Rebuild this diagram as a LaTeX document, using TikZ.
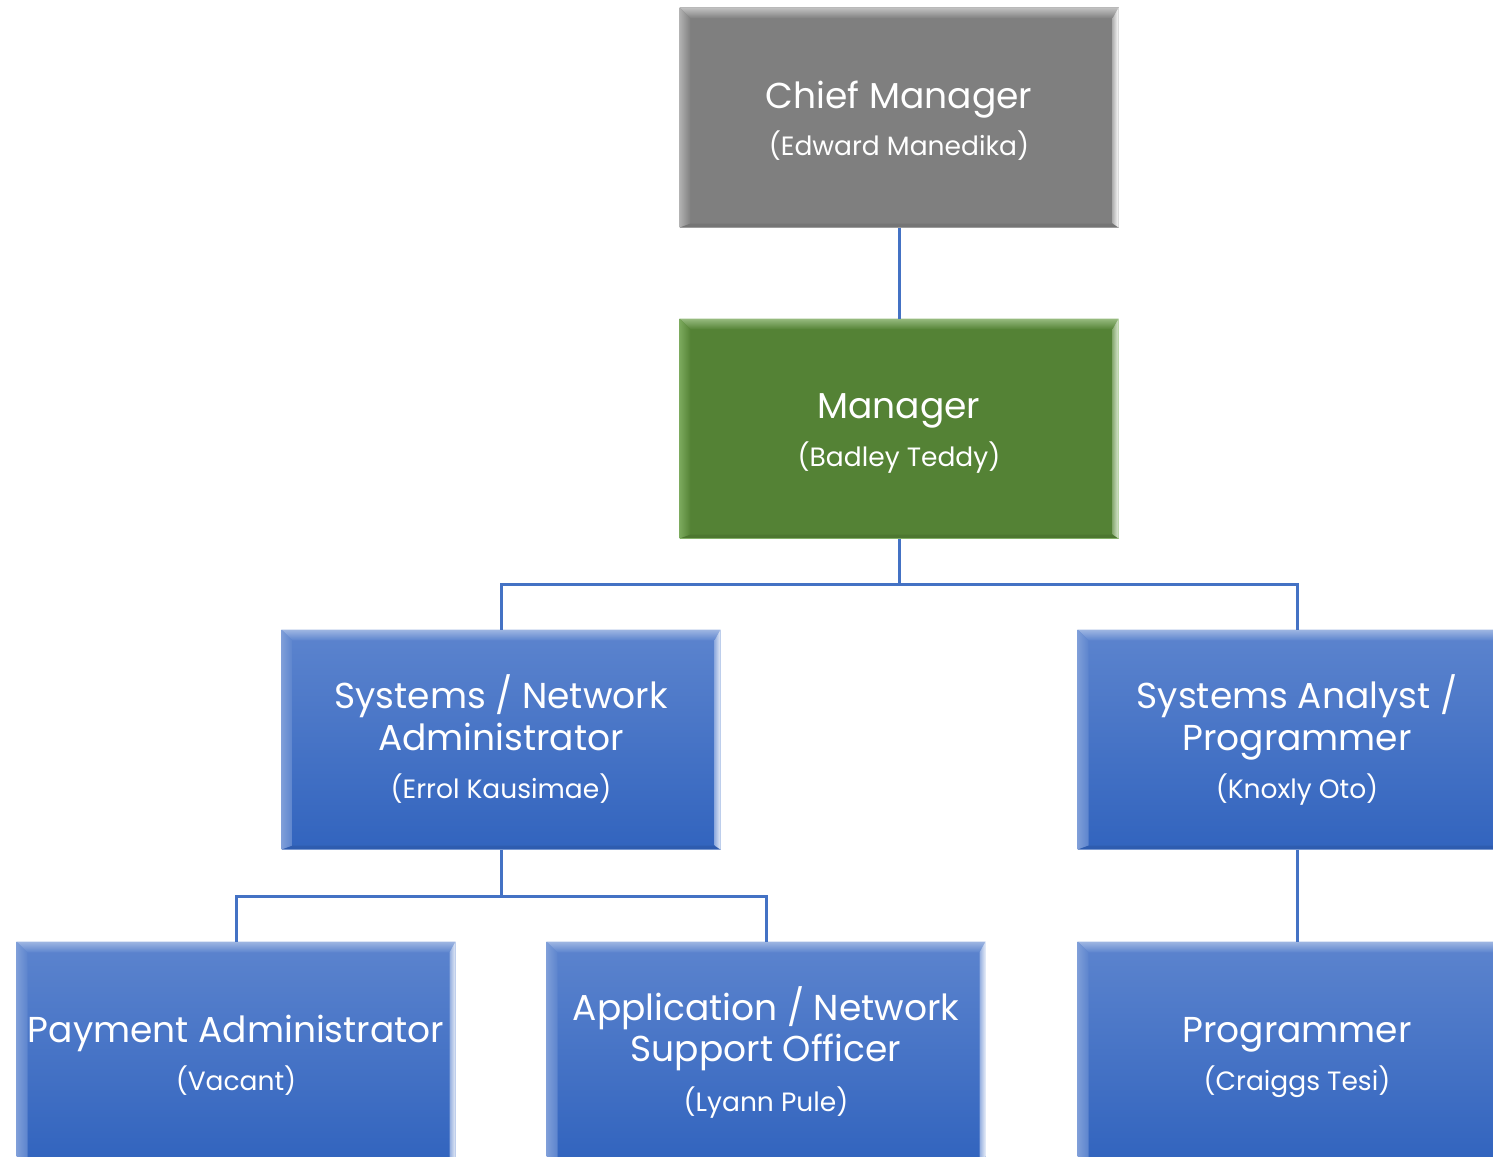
\documentclass[tikz,border=0pt]{standalone}
\usepackage{fontspec}
\setmainfont{Poppins}
\usetikzlibrary{calc}
\definecolor{conn}{RGB}{68,114,196}
\definecolor{bluetop}{RGB}{92,132,206}
\definecolor{bluebot}{RGB}{50,100,190}
\definecolor{blueline}{RGB}{128,160,218}
\definecolor{greyfill}{RGB}{127,127,127}
\definecolor{greyline}{RGB}{165,165,165}
\definecolor{greenfill}{RGB}{84,130,53}
\definecolor{greenline}{RGB}{140,186,110}
\tikzset{
  orgbox/.style={rectangle, minimum width=438pt, minimum height=219pt, inner sep=0pt, line width=1pt},
  bluebox/.style={orgbox, top color=bluetop, bottom color=bluebot, draw=blueline},
  greybox/.style={orgbox, fill=greyfill, draw=greyline},
  greenbox/.style={orgbox, fill=greenfill, draw=greenline},
  conline/.style={draw=conn, line width=3pt},
  ttl/.style={text=white, anchor=base, inner sep=0pt, font=\fontsize{36}{40}\selectfont},
  sub/.style={text=white, anchor=base, inner sep=0pt, font=\fontsize{26.5}{30}\selectfont},
}
% #1 node, #2 top highlight, #3 left highlight, #4 right highlight, #5 fill (top), #6 bottom shade
\newcommand\bevelbox[6]{%
  \shade[top color=#2!75!#5, middle color=#2, bottom color=#5] (#1.north west) -- (#1.north east) -- ($(#1.north east)+(-6,11)$) -- ($(#1.north west)+(11,11)$) -- cycle;
  \shade[left color=#3!70!#5, right color=#5] (#1.north west) -- ($(#1.north west)+(11,11)$) -- ($(#1.south west)+(11,-4)$) -- (#1.south west) -- cycle;
  \shade[right color=#4, left color=#4!40!#5] (#1.north east) -- ($(#1.north east)+(-6,11)$) -- ($(#1.south east)+(-6,-4)$) -- (#1.south east) -- cycle;
  \fill[#6, opacity=0.08] (#1.south west) -- ($(#1.south west)+(11,-4)$) -- ($(#1.south east)+(-6,-4)$) -- (#1.south east) -- cycle;
}
\begin{document}
\begin{tikzpicture}[x=1pt,y=-1pt]
\useasboundingbox (0,0) rectangle (1493,1156);
\clip (0,0) rectangle (1493,1156);
\fill[white] (0,0) rectangle (1493,1156);
% boxes
\node[greybox] (chief) at (899,117.5) {};
\node[greenbox] (mgr) at (899,428.5) {};
\node[bluebox] (sna) at (501,739.5) {};
\node[bluebox] (sap) at (1297,739.5) {};
\node[bluebox] (pay) at (236,1051.5) {};
\node[bluebox] (app) at (766,1051.5) {};
\node[bluebox] (prog) at (1297,1051.5) {};
% bevels
\bevelbox{chief}{gray!30!white}{gray!45!white}{white}{greyfill}{black}
\bevelbox{mgr}{greenline!70!white}{greenline}{greenline!30!white}{greenfill}{black}
\foreach \n in {sna,sap,pay,app,prog}{\bevelbox{\n}{bluetop!45!white}{bluetop!70!white}{bluetop!15!white}{bluetop}{black}}
% connectors
\draw[conline] (chief.south) -- (mgr.north);
\draw[conline] (mgr.south) -- ++(0,46) coordinate (j1) -| (sna.north);
\draw[conline] (j1) -| (sap.north);
\draw[conline] (sna.south) -- ++(0,47) coordinate (j2) -| (pay.north);
\draw[conline] (j2) -| (app.north);
\draw[conline] (sap.south) -- (prog.north);
% texts
\node[ttl] (chiefT) at ($(chief.center)+(0,-9.5)$) {Chief Manager};
\node[sub] (chiefS) at ($(chief.center)+(0,37.5)$) {(Edward Manedika)};
\node[ttl] (mgrT) at ($(mgr.center)+(0,-10.5)$) {Manager};
\node[sub] (mgrS) at ($(mgr.center)+(0,37.5)$) {(Badley Teddy)};
\node[ttl] (snaT1) at ($(sna.center)+(0,-31.5)$) {Systems / Network};
\node[ttl] (snaT2) at ($(sna.center)+(0,10.5)$) {Administrator};
\node[sub] (snaS) at ($(sna.center)+(0,58.5)$) {(Errol Kausimae)};
\node[ttl] (sapT1) at ($(sap.center)+(0,-31.5)$) {Systems Analyst /};
\node[ttl] (sapT2) at ($(sap.center)+(0,10.5)$) {Programmer};
\node[sub] (sapS) at ($(sap.center)+(0,58.5)$) {(Knoxly Oto)};
\node[ttl] (payT) at ($(pay.center)+(0,-9.5)$) {Payment Administrator};
\node[sub] (payS) at ($(pay.center)+(0,38.5)$) {(Vacant)};
\node[ttl] (appT1) at ($(app.center)+(0,-31.5)$) {Application / Network};
\node[ttl] (appT2) at ($(app.center)+(0,9.5)$) {Support Officer};
\node[sub] (appS) at ($(app.center)+(0,60)$) {(Lyann Pule)};
\node[ttl] (progT) at ($(prog.center)+(0,-9.5)$) {Programmer};
\node[sub] (progS) at ($(prog.center)+(0,38.5)$) {(Craiggs Tesi)};
\end{tikzpicture}
\end{document}
